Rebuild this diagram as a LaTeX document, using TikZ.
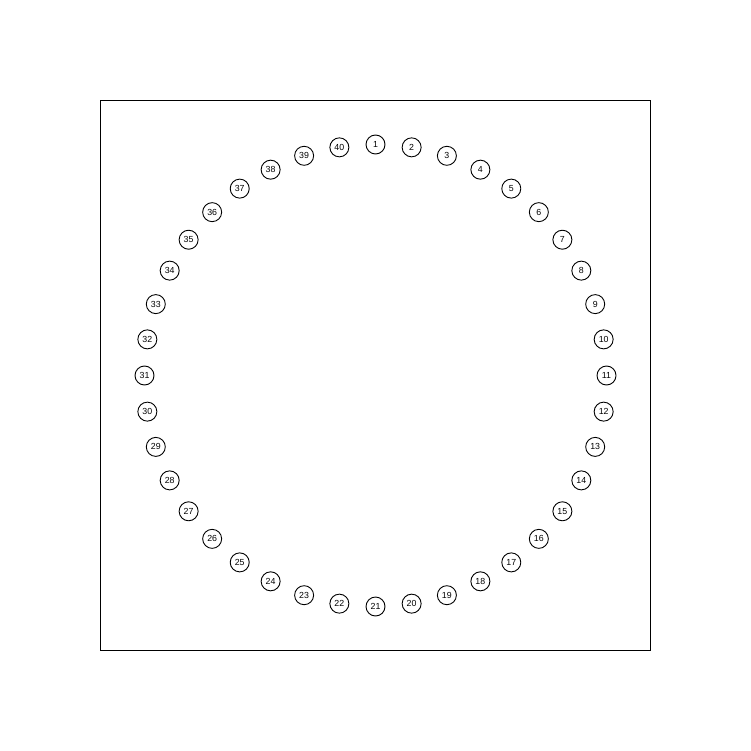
\documentclass[tikz,border=0pt]{standalone}
\usepackage{fontspec}
\setmainfont{Liberation Sans}
\begin{document}
\begin{tikzpicture}[x=1pt,y=-1pt,
  numnode/.style={circle,draw,line width=0.9pt,minimum size=19pt,inner sep=0pt,font=\fontsize{8.8}{10}\selectfont}]
\useasboundingbox (0,0) rectangle (751,751);
\node[draw,line width=0.9pt,minimum width=550pt,minimum height=550pt,inner sep=0pt] (frame) at (375,375) {};
\foreach \k in {1,...,40}{
  \node[numnode] (n\k) at ({375.5+231*cos(90-(\k-1)*9)},{375.5-231*sin(90-(\k-1)*9)}) {\k};
}
\end{tikzpicture}
\end{document}
